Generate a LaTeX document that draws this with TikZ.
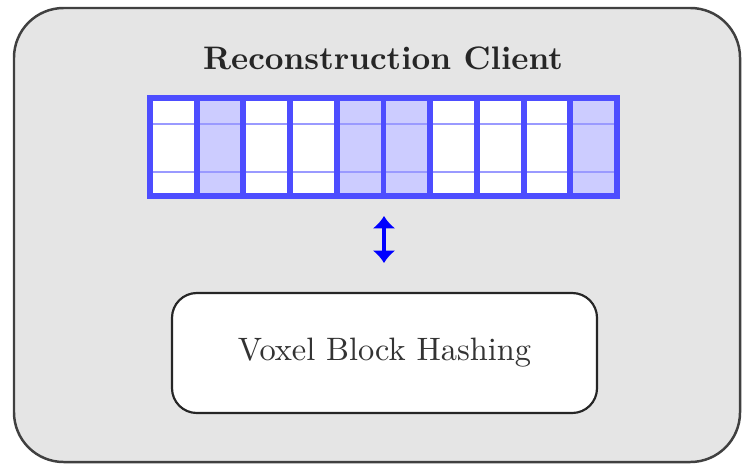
\documentclass[tikz,border=0pt]{standalone}
\usetikzlibrary{arrows.meta}
\definecolor{panelgray}{HTML}{E5E5E5}
\definecolor{cellblue}{HTML}{4D4DFF}
\definecolor{cellfill}{HTML}{CCCCFF}
\definecolor{rowline}{HTML}{9A9AFF}
\begin{document}
\begin{tikzpicture}[x=0.3225pt,y=-0.3225pt,
  panel/.style={draw=black!75,fill=panelgray,line width=0.8pt,rounded corners=16pt},
  hashbox/.style={draw=black!85,fill=white,line width=0.7pt,rounded corners=8pt},
  cellbox/.style={draw=cellblue,line width=1.9pt,minimum width=46.7*0.3225pt,minimum height=98*0.3225pt,inner sep=0pt,outer sep=0pt},
  usedcell/.style={cellbox,fill=cellfill},
  freecell/.style={cellbox,fill=white},
  rowsep/.style={draw=rowline,line width=0.6pt},
  link/.style={draw=blue,line width=1.3pt,{Latex[length=4pt,width=7.5pt]}-{Latex[length=4pt,width=7.5pt]}}]
  \useasboundingbox (0,0) rectangle (748,466);
  % outer panel
  \path[panel] (14,8) rectangle (740,462);
  \node[font=\fontsize{10.5}{12}\selectfont\bfseries,text=black!85] (title) at (383,58) {Reconstruction Client};
  % array of voxel blocks
  \foreach \i/\s in {0/freecell,1/usedcell,2/freecell,3/freecell,4/usedcell,5/usedcell,6/freecell,7/freecell,8/freecell,9/usedcell}{
    \node[\s] (c\i) at ({150+46.7*(\i+0.5)},147) {};
  }
  \draw[rowsep] (150,124) -- (617,124);
  \draw[rowsep] (150,172) -- (617,172);
  \foreach \i in {0,...,9}{\draw[draw=cellblue,line width=1.9pt] (c\i.north west) rectangle (c\i.south east);}
  \draw[draw=cellblue,line width=1.9pt] (c0.north west) rectangle (c9.south east);
  % hashing box
  \node[hashbox,minimum width=425*0.3225pt,minimum height=120*0.3225pt,font=\fontsize{10.45}{12}\selectfont,text=black!80] (hash) at (384.5,353) {Voxel Block Hashing};
  \coordinate (top) at (384,216);
  \coordinate (bot) at (384,263);
  \draw[link] (top) -- (bot);
\end{tikzpicture}
\end{document}
